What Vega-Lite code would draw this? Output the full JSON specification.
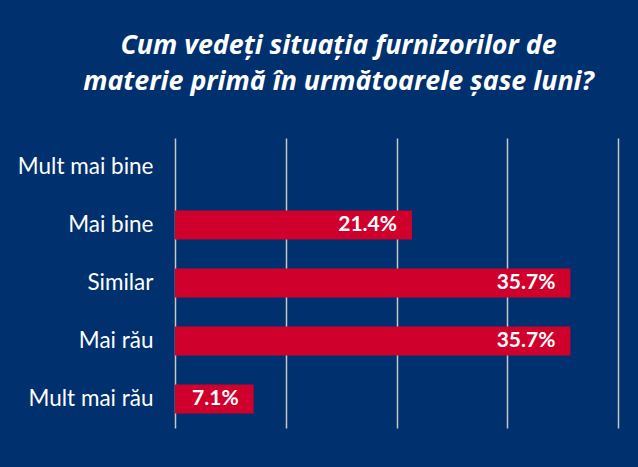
{
  "$schema": "https://vega.github.io/schema/vega-lite/v6.json",
  "width": 443,
  "height": 290,
  "autosize": {"type": "none"},
  "padding": {"left": 175, "top": 138, "right": 20, "bottom": 39},
  "background": "#00306e",
  "title": {
    "text": ["Cum vedeți situația furnizorilor de", "materie primă în următoarele șase luni?"],
    "font": "Open Sans",
    "fontSize": 26.8,
    "fontWeight": "bold",
    "fontStyle": "italic",
    "color": "#ffffff",
    "lineHeight": 36,
    "anchor": "middle",
    "dx": -58,
    "offset": 42
  },
  "data": {
    "values": [
      {"cat": "Mult mai bine", "val": 0},
      {"cat": "Mai bine", "val": 0.214},
      {"cat": "Similar", "val": 0.357},
      {"cat": "Mai rău", "val": 0.357},
      {"cat": "Mult mai rău", "val": 0.071}
    ]
  },
  "encoding": {
    "y": {
      "field": "cat",
      "type": "nominal",
      "sort": null,
      "scale": {"paddingInner": 0.5, "paddingOuter": 0.25},
      "axis": {
        "title": null,
        "ticks": false,
        "domain": false,
        "labelColor": "#ffffff",
        "labelFont": "Lato",
        "labelFontSize": 22.5,
        "labelPadding": 22,
        "grid": false
      }
    },
    "x": {
      "field": "val",
      "type": "quantitative",
      "scale": {"domain": [0, 0.4], "nice": false},
      "axis": {
        "title": null,
        "labels": false,
        "ticks": false,
        "domain": false,
        "values": [0, 0.1, 0.2, 0.3, 0.4],
        "grid": true,
        "gridColor": "#c8c8c8",
        "gridWidth": 1.5,
        "gridOpacity": 1
      }
    }
  },
  "layer": [
    {"mark": {"type": "bar", "color": "#d0002d"}},
    {
      "transform": [{"filter": "datum.val > 0"}],
      "mark": {
        "type": "text",
        "align": "right",
        "baseline": "middle",
        "dx": -15,
        "font": "Lato",
        "fontSize": 21,
        "fontWeight": "bold",
        "color": "#ffffff"
      },
      "encoding": {"text": {"field": "val", "type": "quantitative", "format": ".1%"}}
    }
  ],
  "config": {"view": {"stroke": null}}
}
